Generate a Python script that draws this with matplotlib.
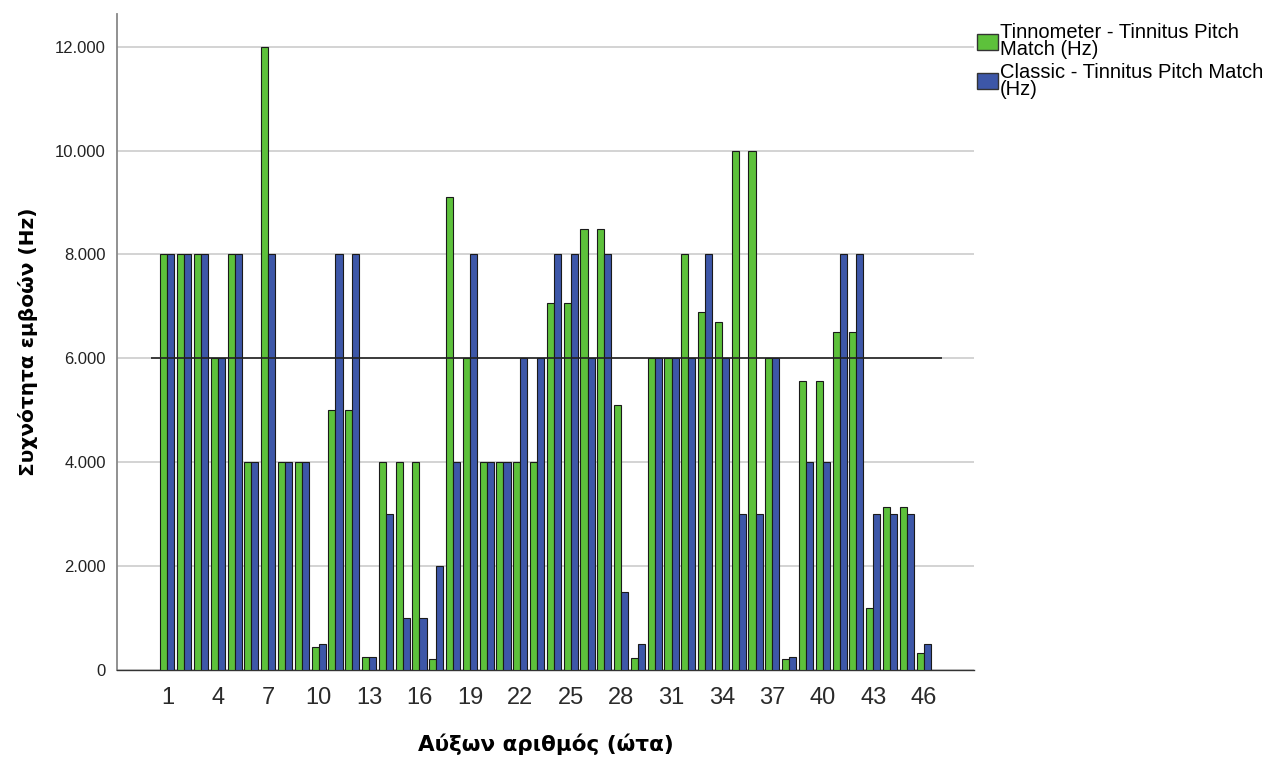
import numpy as np
import matplotlib
matplotlib.use("Agg")
import matplotlib.pyplot as plt
from matplotlib.ticker import FuncFormatter, FixedLocator

# Tinnitus pitch match per ear (Hz)
ears = list(range(1, 47))
tinnometer = [8000, 8000, 8000, 6000, 8000, 4000, 12000, 4000, 4000, 440,
              5000, 5000, 250, 4000, 4000, 4000, 220, 9100, 6000, 4000,
              4000, 4000, 4000, 7070, 7070, 8500, 8500, 5100, 240, 6000,
              6000, 8000, 6900, 6700, 10000, 10000, 6000, 220, 5560, 5560,
              6500, 6500, 1200, 3130, 3130, 320]
classic = [8000, 8000, 8000, 6000, 8000, 4000, 8000, 4000, 4000, 500,
           8000, 8000, 250, 3000, 1000, 1000, 2000, 4000, 8000, 4000,
           4000, 6000, 6000, 8000, 8000, 6000, 8000, 1500, 500, 6000,
           6000, 6000, 8000, 6000, 3000, 3000, 6000, 250, 4000, 4000,
           8000, 8000, 3000, 3000, 3000, 500]
reference_hz = 6000
tick_ears = list(range(1, 47, 3))

series_names = ["Tinnometer - Tinnitus Pitch\nMatch (Hz)",
                "Classic - Tinnitus Pitch Match\n(Hz)"]
green = "#5dc13b"
blue = "#3d57a8"

fig = plt.figure(figsize=(12.72, 7.58), dpi=100)
ax = fig.add_axes([117 / 1272, 1 - 670 / 758, (974 - 117) / 1272, (670 - 14) / 758])

x = np.array(ears, dtype=float)
w = 0.42
ax.bar(x - w / 2, tinnometer, width=w, color=green, edgecolor="#1a1a1a",
       linewidth=0.8, label=series_names[0], zorder=3)
ax.bar(x + w / 2, classic, width=w, color=blue, edgecolor="#1a1a1a",
       linewidth=0.8, label=series_names[1], zorder=3)

# horizontal reference line
ax.hlines(reference_hz, x[0] - 1, x[-1] + 1.07, color="#222222", linewidth=1.2, zorder=4)

ax.set_xlim(-2.0, 49.0)
ax.set_ylim(0, 12630)
ax.yaxis.set_major_locator(FixedLocator(range(0, 12001, 2000)))
ax.yaxis.set_major_formatter(FuncFormatter(lambda v, p: f"{int(v):,}".replace(",", ".")))
ax.set_xticks(tick_ears)
ax.set_xticklabels([str(t) for t in tick_ears])

ax.grid(axis="y", color="#d0d0d0", linewidth=1.3, zorder=0)
ax.set_axisbelow(True)
for s in ["top", "right"]:
    ax.spines[s].set_visible(False)
ax.spines["left"].set_color("#888888")
ax.spines["left"].set_linewidth(1.3)
ax.spines["bottom"].set_color("#333333")
ax.spines["bottom"].set_linewidth(1.0)

ax.tick_params(axis="x", length=0, pad=12, labelsize=17, labelcolor="#2a2a2a")
ax.tick_params(axis="y", length=0, pad=8, labelsize=12, labelcolor="#222222")
for lbl in ax.get_xticklabels() + ax.get_yticklabels():
    lbl.set_family("Liberation Sans")

ax.set_xlabel("Αύξων αριθμός (ώτα)", fontsize=15.5, fontweight="bold",
              family="DejaVu Sans", va="center")
ax.xaxis.set_label_coords(0.5, -0.113)
ax.set_ylabel("Συχνότητα εμβοών (Hz)", fontsize=14.5, fontweight="bold",
              family="DejaVu Sans", labelpad=12)

leg = ax.legend(loc="upper left", bbox_to_anchor=(0.999, 0.992), frameon=False,
                prop={"family": "Liberation Sans", "size": 14.5},
                handlelength=1.05, handleheight=0.85, handletextpad=0.08,
                labelspacing=0.2, borderaxespad=0, borderpad=0.2)
for t in leg.get_texts():
    t.set_linespacing(0.85)
for h in leg.legend_handles:
    h.set_edgecolor("#333333")
    h.set_linewidth(1.0)

fig.savefig("out.png", dpi=100)
